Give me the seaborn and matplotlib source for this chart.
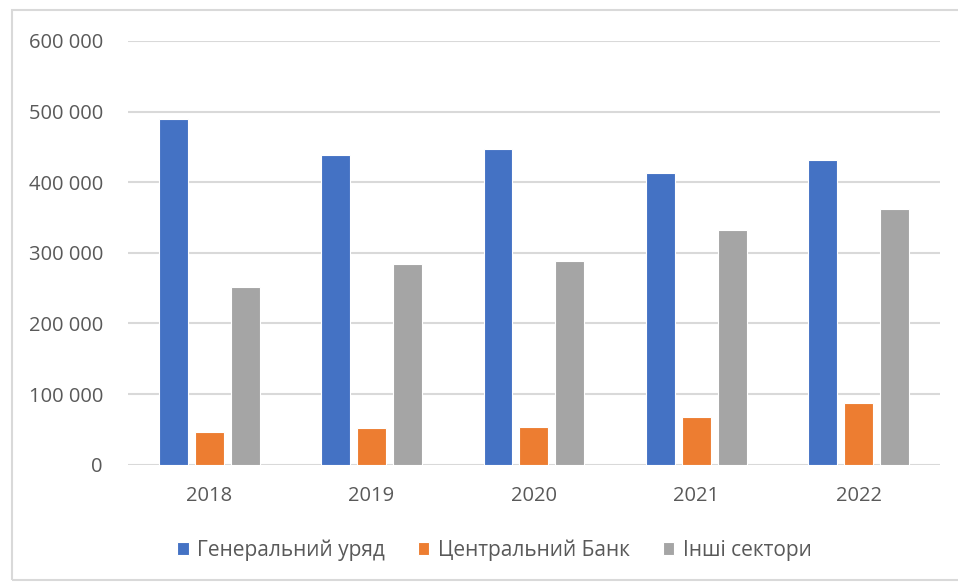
import numpy as np
import pandas as pd
import matplotlib
matplotlib.use('Agg')
import matplotlib.pyplot as plt
import seaborn as sns
from matplotlib.ticker import FuncFormatter
from matplotlib.patches import Rectangle

sns.set_style('white')
plt.rcParams['font.family'] = ['Open Sans', 'DejaVu Sans']

# Дані з діаграми
roky = ['2018', '2019', '2020', '2021', '2022']
sektory = ['Генеральний уряд', 'Центральний Банк', 'Інші сектори']
uriad = [489700, 438700, 447600, 413200, 431200]
bank = [45800, 51500, 53300, 68000, 87800]
inshi = [251300, 284300, 288500, 332000, 362200]
kolory = ['#4472C4', '#ED7D31', '#A5A5A5']

df = pd.DataFrame({
    'rik': roky * 3,
    'sektor': [sektory[0]] * 5 + [sektory[1]] * 5 + [sektory[2]] * 5,
    'znach': uriad + bank + inshi,
})

fig = plt.figure(figsize=(9.58, 5.82), dpi=100)
ax = fig.add_axes([0.1336, 0.2015, 0.981 - 0.1336, 0.9296 - 0.2015])

sns.barplot(data=df, x='rik', y='znach', hue='sektor', palette=kolory,
            saturation=1, width=0.665, gap=0.2, edgecolor='white',
            linewidth=0.8, ax=ax, legend=True, zorder=3)

ax.set_ylim(0, 600000)
ax.set_yticks(np.arange(0, 600001, 100000))
ax.yaxis.set_major_formatter(FuncFormatter(lambda v, p: '0' if v == 0 else f'{int(v):,}'.replace(',', ' ')))
ax.grid(axis='y', color='#d9d9d9', linewidth=1.5, zorder=0)
ax.grid(axis='x', visible=False)
for s in ax.spines.values():
    s.set_visible(False)
ax.set_xlabel('')
ax.set_ylabel('')
ax.tick_params(axis='both', length=0, labelsize=14.5, labelcolor='#595959')
ax.tick_params(axis='y', pad=18)
ax.tick_params(axis='x', pad=15)

h, l = ax.get_legend_handles_labels()
ax.get_legend().remove()
fig.legend(h, l, loc='center', bbox_to_anchor=(0.516, 0.055), ncol=3,
           frameon=False, fontsize=15, labelcolor='#595959',
           handlelength=0.55, handleheight=0.55, handletextpad=0.4,
           columnspacing=1.6)

fig.patches.append(Rectangle((12 / 958, 2 / 582), 1.0, 1 - 12 / 582,
                             transform=fig.transFigure, fill=False,
                             edgecolor='#d9d9d9', linewidth=1.5))

fig.savefig('out.png', dpi=100)
